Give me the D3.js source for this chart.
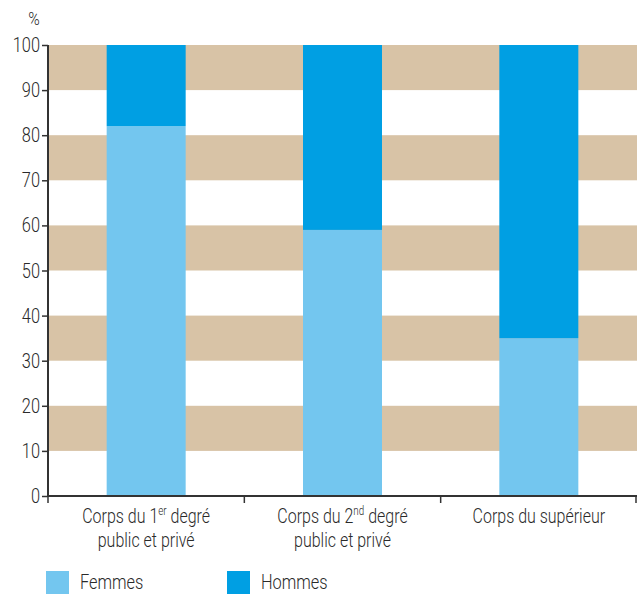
<!DOCTYPE html>
<html><head><meta charset="utf-8">
<script src="https://cdn.jsdelivr.net/npm/d3@7"></script>
<style>
body{margin:0;background:#fff;}
text{font-family:Roboto,"Liberation Sans",sans-serif;fill:#2a2a2a;font-weight:300;}
</style></head><body>
<svg id="c" width="637" height="594"></svg>
<script>
const categories = ["c1","c2","c3"];
const catLines = [
  [["Corps du 1","er"," degré"],["public et privé"]],
  [["Corps du 2","nd"," degré"],["public et privé"]],
  [["Corps du supérieur"]]
];
const femmes = [82, 59, 35];
const hommes = [18, 41, 65];
const yTicks = [0,10,20,30,40,50,60,70,80,90,100];
const bands = [[10,20],[30,40],[50,60],[70,80],[90,100]];
const seriesNames = ["Femmes","Hommes"];
const colors = ["#73C6EF","#009FE3"];

const SX = 0.82; // horizontal condensing
const svg = d3.select("#c");
const m = {l:48, r:0, t:45, b:98};
const W = 637, H = 594;
const x = d3.scaleBand().domain(categories).range([m.l, W-m.r]).paddingInner(0).paddingOuter(0);
const y = d3.scaleLinear().domain([0,100]).range([H-m.b, m.t]);

function ctext(px, py, size, anchor){
  return svg.append("text").attr("transform",`translate(${px},${py}) scale(${SX},1)`)
    .attr("font-size",size).attr("text-anchor",anchor||"start");
}

svg.selectAll(".band").data(bands).join("rect")
  .attr("x", m.l).attr("width", W-m.r-m.l)
  .attr("y", d=>y(d[1])).attr("height", d=>y(d[0])-y(d[1]))
  .attr("fill","#D8C3A6");

const bw = 79;
const stack = d3.stack().keys(["f","h"])(categories.map((c,i)=>({c, f:femmes[i], h:hommes[i]})));
stack.forEach((s,si)=>{
  svg.selectAll(".s"+si).data(s).join("rect")
    .attr("x", d=>x(d.data.c)+x.bandwidth()/2-bw/2).attr("width", bw)
    .attr("y", d=>y(d[1])).attr("height", d=>y(d[0])-y(d[1]))
    .attr("fill", colors[si]);
});

// y axis
const ya = svg.append("g").attr("transform",`translate(${m.l},0)`)
  .call(d3.axisLeft(y).tickValues(yTicks).tickSize(6).tickFormat(""));
ya.select(".domain").attr("stroke","#333").attr("stroke-width",2).attr("d",`M0,${y(100)}V${y(0)}`);
ya.selectAll(".tick line").attr("stroke","#333").attr("stroke-width",1.5);
yTicks.forEach(v=>{
  ctext(40, y(v)+7, 20, "end").text(v);
});

// x axis
const xg = svg.append("g").attr("transform",`translate(0,${y(0)})`);
xg.append("line").attr("x1",m.l).attr("x2",W).attr("y1",0).attr("y2",0).attr("stroke","#333").attr("stroke-width",2);
const edges = categories.map(c=>x(c)).concat([x(categories[categories.length-1])+x.bandwidth()]);
xg.selectAll(".xt").data(edges).join("line")
  .attr("x1",d=>Math.min(d,W-1)).attr("x2",d=>Math.min(d,W-1)).attr("y1",0).attr("y2",7)
  .attr("stroke","#333").attr("stroke-width",1.5);

catLines.forEach((lines,i)=>{
  const cx = x(categories[i])+x.bandwidth()/2;
  lines.forEach((parts,li)=>{
    const t = ctext(cx, y(0)+27+li*24, 19.5, "middle");
    parts.forEach((p,pi)=>{
      const sp = t.append("tspan").text(p);
      if(parts.length===3 && pi===1){ sp.attr("font-size",12).attr("dy",-8); }
      if(parts.length===3 && pi===2){ sp.attr("dy",8); }
    });
  });
});

ctext(34, 25, 19, "middle").text("%");

// legend
const lx = [46, 227];
seriesNames.forEach((n,i)=>{
  svg.append("rect").attr("x",lx[i]).attr("y",571).attr("width",23).attr("height",23).attr("fill",colors[i]);
  ctext(lx[i]+34, 589, 20, "start").text(n);
});
</script></body></html>
